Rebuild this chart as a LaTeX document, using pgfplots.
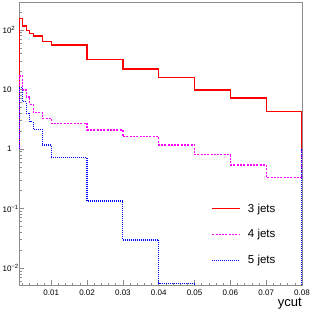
\documentclass[border=0pt]{standalone}
\usepackage{pgfplots}
\pgfplotsset{compat=1.18}
\usepackage{fontspec}
\setmainfont{Liberation Sans}
\definecolor{axgray}{RGB}{140,140,140}
\definecolor{hred}{RGB}{255,0,0}
\definecolor{hmag}{RGB}{255,0,255}
\definecolor{hblue}{RGB}{0,0,255}
\begin{document}
\begin{tikzpicture}
\begin{axis}[
  scale only axis, width=283pt, height=283pt,
  xmin=0.001, xmax=0.08, ymode=log, ymin=0.0052, ymax=295,
  scaled x ticks=false,
  axis line style={draw=axgray, line width=0.7pt},
  xtick={0.01,0.02,0.03,0.04,0.05,0.06,0.07,0.08},
  xticklabels={0.01,0.02,0.03,0.04,0.05,0.06,0.07,0.08},
  minor xtick={0.002,0.004,0.006,0.008,0.012,0.014,0.016,0.018,0.022,0.024,0.026,0.028,0.032,0.034,0.036,0.038,0.042,0.044,0.046,0.048,0.052,0.054,0.056,0.058,0.062,0.064,0.066,0.068,0.072,0.074,0.076,0.078},
  ytick={0.01,0.1,1,10,100},
  yticklabels={10\rlap{\textsuperscript{−2}},10\rlap{\textsuperscript{−1}},1,10,10\rlap{\textsuperscript{2}}},
  minor ytick={0.006,0.007,0.008,0.009,0.02,0.03,0.04,0.05,0.06,0.07,0.08,0.09,0.2,0.3,0.4,0.5,0.6,0.7,0.8,0.9,2,3,4,5,6,7,8,9,20,30,40,50,60,70,80,90,200},
  tick align=inside, major tick length=5pt, minor tick length=2.5pt,
  xtick pos=bottom, ytick pos=left,
  tick style={draw=axgray, line width=0.6pt},
  /pgf/number format/assume math mode=true,
  ticklabel style={font=\fontsize{8}{9}\selectfont},
  yticklabel style={anchor=east, xshift=-4pt},
  xticklabel style={yshift=-1pt},
  xlabel={ycut},
  xlabel style={at={(1,0)}, anchor=north east, yshift=-13pt, inner sep=0pt, font=\fontsize{13}{14}\selectfont},
  legend image code/.code={\draw[#1] (0pt,0pt) -- (28pt,0pt);},
  legend style={draw=none, fill=none, at={(0.68,0.295)}, anchor=north west, inner sep=0pt,
    font=\fontsize{11.5}{13}\selectfont, row sep=12pt, cells={anchor=west},
    /tikz/every odd column/.append style={column sep=5pt}},
  legend cell align=left,
]
\addplot[const plot, color=hred, line width=1.3pt] coordinates {
(0.001,1) (0.001,156) (0.002,116) (0.003,99) (0.004,87) (0.005,79) (0.0075,64) (0.01,56) (0.02,32) (0.03,22) (0.04,16) (0.05,9.8) (0.06,7.2) (0.07,4.3) (0.08,4.3) (0.08,1)};
\addlegendentry{3 jets}
\addplot[const plot, color=hmag, line width=1.3pt, dash pattern=on 2pt off 1.3pt] coordinates {
(0.001,1) (0.001,16.8) (0.002,9.8) (0.003,7.5) (0.004,5.6) (0.005,4.1) (0.0075,3.27) (0.01,2.7) (0.02,2.08) (0.03,1.61) (0.04,1.17) (0.05,0.80) (0.06,0.54) (0.07,0.335) (0.08,0.335) (0.08,1)};
\addlegendentry{4 jets}
\addplot[const plot, color=hblue, line width=1.2pt, dash pattern=on 1pt off 1pt] coordinates {
(0.001,1) (0.001,10.8) (0.002,6.2) (0.003,4.0) (0.004,2.9) (0.005,2.14) (0.0075,1.17) (0.01,0.71) (0.02,0.134) (0.03,0.0297) (0.04,0.00558) (0.05,0.0001) (0.08,0.0001) (0.08,1)};
\addlegendentry{5 jets}
\end{axis}
\pgfresetboundingbox
\path[use as bounding box] ([shift={(-19pt,-26pt)}]current axis.south west) rectangle ([shift={(10pt,2pt)}]current axis.north east);
\end{tikzpicture}
\end{document}
